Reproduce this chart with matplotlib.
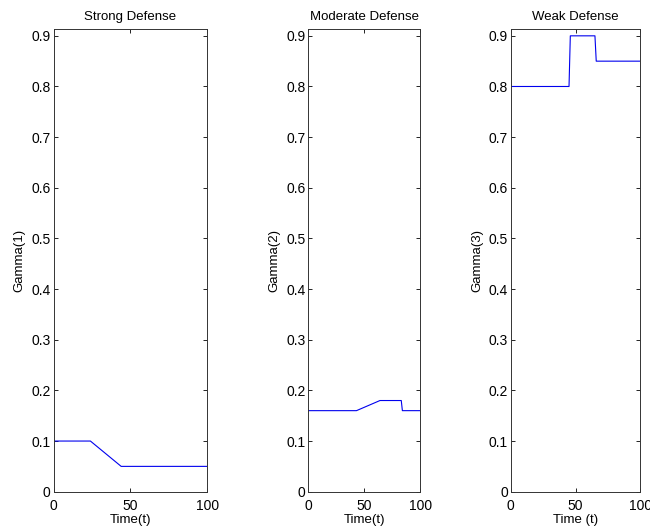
import matplotlib.pyplot as plt

plt.rcParams['font.family'] = ['Liberation Sans', 'DejaVu Sans']
plt.rcParams['font.size'] = 9

titles = ['Strong Defense', 'Moderate Defense', 'Weak Defense']
ylabels = ['Gamma(1)', 'Gamma(2)', 'Gamma(3)']
xlabels = ['Time(t)', 'Time(t)', 'Time (t)']

t1 = [0, 24, 44, 100]
g1 = [0.10, 0.10, 0.05, 0.05]

t2 = [0, 43, 64, 83, 84, 100]
g2 = [0.16, 0.16, 0.18, 0.18, 0.16, 0.16]

t3 = [0, 45, 46, 65, 66, 100]
g3 = [0.80, 0.80, 0.90, 0.90, 0.85, 0.85]

xticks = [0, 50, 100]
yticks = [0, 0.1, 0.2, 0.3, 0.4, 0.5, 0.6, 0.7, 0.8, 0.9]
yticklabels = ['0', '0.1', '0.2', '0.3', '0.4', '0.5', '0.6', '0.7', '0.8', '0.9']

fig = plt.figure(figsize=(6.5, 5.27), dpi=100)
W, H = 650, 527
boxes = [(53.5, 207.3), (308.3, 420.3), (510.7, 640.3)]
top, bottom = 29.5, 491.7

series = [(t1, g1), (t2, g2), (t3, g3)]
for i, (l, r) in enumerate(boxes):
    ax = fig.add_axes([l / W, 1 - bottom / H, (r - l) / W, (bottom - top) / H])
    t, g = series[i]
    ax.plot(t, g, color='#0000ee', linewidth=0.8)
    ax.set_xlim(0, 100)
    ax.set_ylim(0, 0.9125)
    ax.set_xticks(xticks)
    ax.set_xticklabels([str(x) for x in xticks])
    ax.set_yticks(yticks)
    ax.set_yticklabels(yticklabels)
    ax.tick_params(direction='in', top=True, right=True, length=3, width=0.6,
                   labelsize=10)
    ax.tick_params(axis='x', pad=5)
    ax.tick_params(axis='y', pad=2)
    for s in ax.spines.values():
        s.set_linewidth(0.7)
        s.set_color('#333333')
    ax.set_title(titles[i], fontsize=9.5, pad=7)
    ax.set_xlabel(xlabels[i], fontsize=9.5, labelpad=1)
    ax.set_ylabel(ylabels[i], fontsize=9.5, labelpad=4)

fig.savefig('out.png', dpi=100)
